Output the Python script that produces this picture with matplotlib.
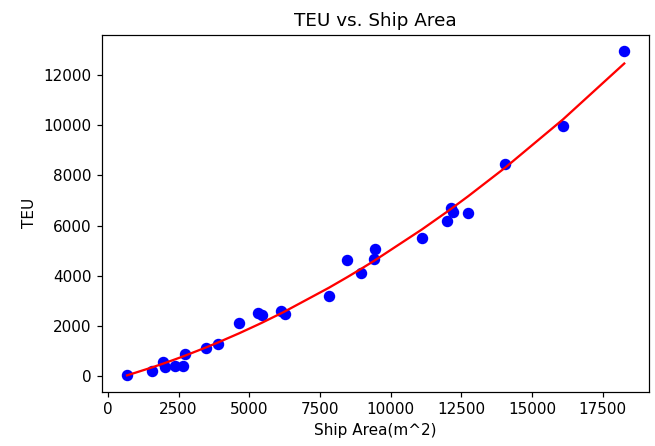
import numpy as np
import matplotlib
matplotlib.use("Agg")
import matplotlib.pyplot as plt

# ship deck area (m^2) and capacity (TEU)
area = np.array([680, 1550, 1940, 2030, 2390, 2670, 2730, 3470, 3880,
                 4640, 5310, 5440, 6110, 6250, 7810, 8460, 8960, 9400,
                 9430, 11100, 11980, 12130, 12220, 12740, 14060, 16090, 18260])
teu = np.array([60, 220, 560, 360, 410, 410, 880, 1130, 1290,
                2110, 2510, 2430, 2590, 2490, 3210, 4620, 4120, 4680,
                5080, 5520, 6170, 6710, 6550, 6510, 8470, 9970, 12960])

# quadratic fit like the original notebook
coeffs = np.polyfit(area, teu, 2)
xs = np.sort(area)
fit = np.polyval(coeffs, xs)

dpi = 110
fig = plt.figure(figsize=(655/dpi, 446/dpi), dpi=dpi)
ax = fig.add_axes([0.156, 0.122, 0.835, 0.800])
ax.scatter(area, teu, color='blue', s=42)
ax.plot(xs, fit, color='red')
ax.set_title("TEU vs. Ship Area")
ax.set_xlabel("Ship Area(m^2)")
ax.set_ylabel("TEU")
fig.savefig("out.png", dpi=dpi)
